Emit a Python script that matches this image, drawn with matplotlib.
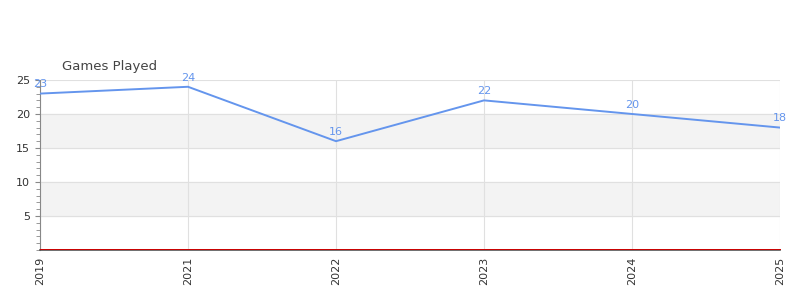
import matplotlib.pyplot as plt
import matplotlib.transforms as mtransforms
from matplotlib.ticker import MultipleLocator

years = ["2019", "2021", "2022", "2023", "2024", "2025"]
games = [23, 24, 16, 22, 20, 18]

line_color = '#6495ed'
fig = plt.figure(figsize=(8, 3), dpi=100)
ax = fig.add_axes([0.05, 0.1667, 0.925, 0.5667])

x = list(range(len(years)))
ax.set_xlim(0, len(years) - 1)
ax.set_ylim(0, 25)

# alternating bands
for lo, hi in [(5, 10), (15, 20)]:
    ax.axhspan(lo, hi, color='#f3f3f3', zorder=0)

ax.set_xticks(x)
ax.set_xticklabels(years, rotation=90)
ax.set_yticks([5, 10, 15, 20, 25])
ax.yaxis.set_minor_locator(MultipleLocator(1))
ax.grid(True, color='#e0e0e0', linewidth=0.8, zorder=1)
ax.set_axisbelow(True)

ax.plot(x, games, color=line_color, linewidth=1.4, zorder=3)
for xi, v in zip(x, games):
    ax.annotate(str(v), (xi, v), xytext=(0, 3), textcoords='offset points',
                ha='center', va='bottom', fontsize=8, color=line_color)

# thin red zero line just above the axis line
shift = mtransforms.offset_copy(ax.get_yaxis_transform(), fig=fig, y=1.2, units='dots')
ax.plot([0, 1], [0, 0], color='#cc0000', linewidth=0.7, transform=shift, zorder=4, clip_on=False)

for s in ['top', 'right']:
    ax.spines[s].set_visible(False)
ax.spines['left'].set_color('#888888')
ax.spines['bottom'].set_color('#555555')
ax.spines['bottom'].set_linewidth(1.2)
ax.tick_params(axis='both', labelsize=8, colors='#333333')
ax.tick_params(axis='y', which='both', color='#888888')
ax.tick_params(axis='y', which='minor', length=3)
ax.tick_params(axis='x', length=0, pad=5)

fig.text(0.0775, 0.777, "Games Played", fontsize=9.5, color='#444444', ha='left', va='center')

fig.savefig('out.png')
